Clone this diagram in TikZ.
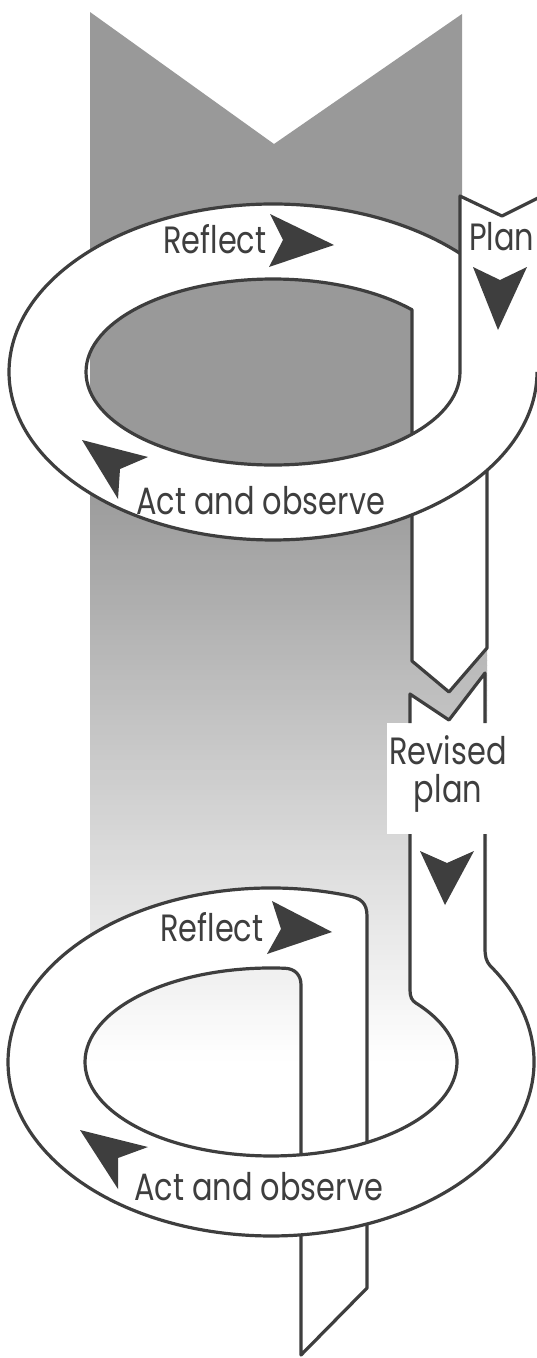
\documentclass[tikz,border=0pt]{standalone}
\usepackage{fontspec}
\newfontfamily\labfont[FakeStretch=0.8]{Poppins}
\definecolor{ink}{RGB}{62,62,62}
\begin{document}
\begin{tikzpicture}[x=1pt,y=-1pt,line join=round,
  outline/.style={draw=ink,line width=3.2pt},
  lbl/.style={font=\labfont\fontsize{38}{42}\selectfont,text=ink,inner sep=0pt,anchor=base west},
  dart/.style={fill=ink}]
\useasboundingbox (0,0) rectangle (537,1358);
\fill[white] (0,0) rectangle (537,1358);
\clip (0,0) rectangle (537,1358);
% ---------- gray band ----------
\begin{scope}
\clip (90,12) -- (274,144) -- (462,14) -- (462,380) -- (487,380) -- (487,1100) -- (90,1100) -- cycle;
\fill[black!40] (0,0) rectangle (537,482);
\foreach \i in {0,...,115} {
  \pgfmathsetmacro{\yy}{480+5*\i}
  \pgfmathsetmacro{\pp}{40*(1-(\i+0.5)/116)}
  \fill[black!\pp] (0,\yy) rectangle (537,\yy+5.6);
}
\end{scope}
% ---------- upper loop ----------
\fill[white] (412,440) -- (412,661) -- (449,692) -- (487,648) -- (487,440) -- cycle;
\fill[white,even odd rule] (273,372) ellipse [x radius=264, y radius=168]
   (412,309.8) arc[start angle=-41.98, end angle=-318.02, x radius=187, y radius=93] -- cycle;
\fill[white] (460,196) -- (502,216) -- (546,194) -- (546,372) -- (460,372) -- cycle;
\draw[outline] (460,253.4) arc[start angle=-44.90, end angle=-360, x radius=264, y radius=168];
\draw[outline] (546,194) -- (502,216) -- (460,196) -- (460,372)
   arc[start angle=0, end angle=318.02, x radius=187, y radius=93] -- (412,434.2);
\draw[outline] (412,514.8) -- (412,661) -- (449,692) -- (487,648) -- (487,470.4);
% ---------- lower loop ----------
\fill[white] (410,694) -- (449,720) -- (485,673) -- (485,970) -- (410,970) -- cycle;
\fill[white] (301,1140) -- (301,1355) -- (367,1288) -- (367,1140) -- cycle;
\fill[white,even odd rule]
  (485,948) .. controls (485,956) and (486,961) .. (490,965.6)
  arc[start angle=-33.63, end angle=286.80, x radius=263, y radius=174]
  .. controls (361,898) and (367,903) .. (367,916) -- (367,1142.5)
  arc[start angle=58.93, end angle=-38.78, x radius=186, y radius=94]
  .. controls (412,1000.6) and (410,997) .. (410,990) -- (410,948) -- cycle
  (301,985) -- (301,1154.8) arc[start angle=80.72, end angle=274.32, x radius=186, y radius=94]
  .. controls (295,968.7) and (301,975) .. (301,985) -- cycle;
\fill[white] (387,723) rectangle (507,834);
\draw[outline] (410,723) -- (410,694) -- (449,720) -- (485,673) -- (485,723);
\draw[outline] (485,834) -- (485,948) .. controls (485,956) and (486,961) .. (490,965.6)
  arc[start angle=-33.63, end angle=286.80, x radius=263, y radius=174]
  .. controls (361,898) and (367,903) .. (367,916) -- (367,1142.5);
\draw[outline] (410,834) -- (410,990) .. controls (410,997) and (412,1000.6) .. (416,1003.1)
  arc[start angle=-38.78, end angle=274.32, x radius=186, y radius=94]
  .. controls (295,968.7) and (301,975) .. (301,985) -- (301,1154.8);
\draw[outline] (367,1224) -- (367,1288) -- (301,1355) -- (301,1234.9);
% ---------- darts ----------
\fill[dart] (270,214) -- (334,245) -- (269,267) -- (283,240) -- cycle;
\fill[dart] (473,267) -- (500,280) -- (527,267) -- (498,330) -- cycle;
\fill[dart] (82,440) -- (148,457) -- (120,469) -- (118,499) -- cycle;
\fill[dart] (420,851) -- (447,863) -- (474,851) -- (445,905) -- cycle;
\fill[dart] (272,901) -- (332,932) -- (267,954) -- (281,929) -- cycle;
\fill[dart] (80,1130) -- (148,1147) -- (118,1158) -- (118,1189) -- cycle;
% ---------- labels ----------
\node[lbl] (reflectA) at (163,253) {Reflect};
\node[lbl] (planA) at (469,250) {Plan};
\node[lbl] (actA) at (136,514) {Act and observe};
\node[lbl] (reflectB) at (160,941) {Reflect};
\node[lbl] (actB) at (134,1200) {Act and observe};
\node[lbl,anchor=base] (revised) at (448,764) {Revised};
\node[lbl,anchor=base] (revplan) at (448,802) {plan};
\end{tikzpicture}
\end{document}
